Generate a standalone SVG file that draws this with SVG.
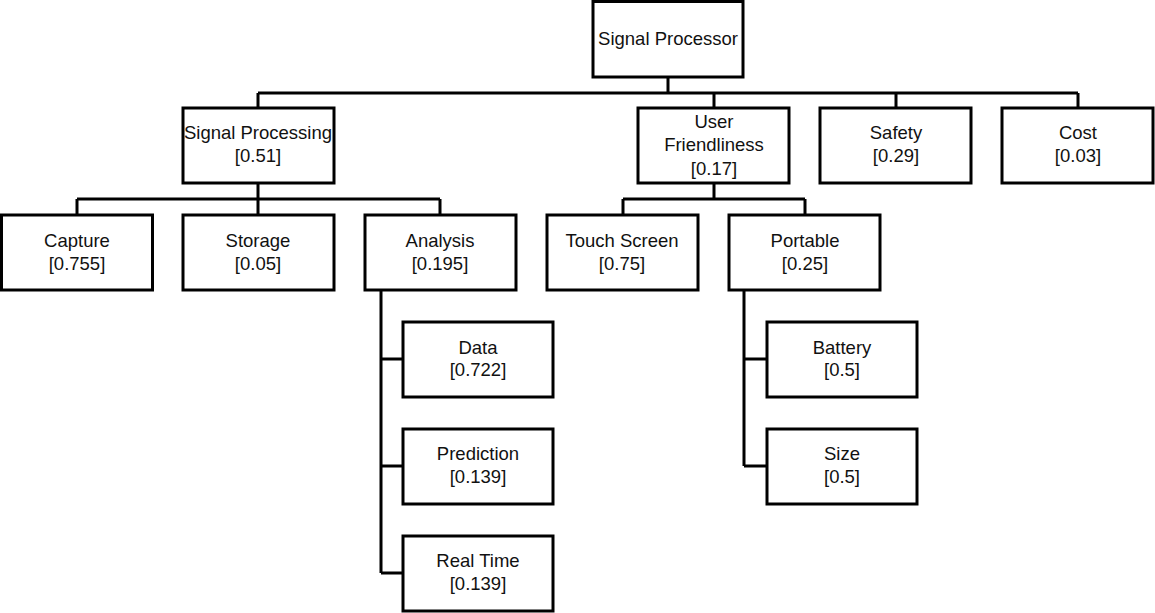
<svg xmlns="http://www.w3.org/2000/svg" width="1155" height="613" viewBox="0 0 1155 613">
<style>
.box{fill:#fff;stroke:#000;stroke-width:3}
.ln{fill:none;stroke:#000;stroke-width:3}
text{font-family:"Liberation Sans",Arial,sans-serif;font-size:18.5px;fill:#111;text-anchor:middle}
</style>
<rect width="1155" height="613" fill="#fff"/>
<g id="connectors">
<path class="ln" d="M668,77 V93 M258,93 H1078 M258,93 V108 M714,93 V108 M896,93 V108 M1078,93 V108"/>
<path class="ln" d="M258,183 V199 M77,199 H440 M77,199 V215 M258,199 V215 M440,199 V215"/>
<path class="ln" d="M714,183 V199 M623,199 H805 M623,199 V215 M805,199 V215"/>
<path class="ln" d="M381,291 V573 M381,359 H403 M381,466 H403 M381,573 H403"/>
<path class="ln" d="M744,291 V466 M744,359 H767 M744,466 H767"/>
</g>
<g id="n_root"><rect class="box" x="593" y="1.5" width="150" height="75.5"/><text x="668" y="45">Signal Processor</text></g>
<g id="n_sp"><rect class="box" x="183" y="108" width="151" height="75"/><text x="258" y="139">Signal Processing</text><text x="258" y="162">[0.51]</text></g>
<g id="n_uf"><rect class="box" x="638" y="108" width="151" height="75"/><text x="714" y="128">User</text><text x="714" y="151">Friendliness</text><text x="714" y="175">[0.17]</text></g>
<g id="n_safety"><rect class="box" x="820" y="108" width="151" height="75"/><text x="896" y="139">Safety</text><text x="896" y="162">[0.29]</text></g>
<g id="n_cost"><rect class="box" x="1002" y="108" width="151" height="75"/><text x="1078" y="139">Cost</text><text x="1078" y="162">[0.03]</text></g>
<g id="n_capture"><rect class="box" x="1.5" y="215" width="151" height="75"/><text x="77" y="247">Capture</text><text x="77" y="270">[0.755]</text></g>
<g id="n_storage"><rect class="box" x="183" y="215" width="151" height="75"/><text x="258" y="247">Storage</text><text x="258" y="270">[0.05]</text></g>
<g id="n_analysis"><rect class="box" x="365" y="215" width="151" height="75"/><text x="440" y="247">Analysis</text><text x="440" y="270">[0.195]</text></g>
<g id="n_touch"><rect class="box" x="547" y="215" width="151" height="75"/><text x="622" y="247">Touch Screen</text><text x="622" y="270">[0.75]</text></g>
<g id="n_portable"><rect class="box" x="729" y="215" width="151" height="75"/><text x="805" y="247">Portable</text><text x="805" y="270">[0.25]</text></g>
<g id="n_data"><rect class="box" x="403" y="322" width="150" height="75"/><text x="478" y="354">Data</text><text x="478" y="376">[0.722]</text></g>
<g id="n_prediction"><rect class="box" x="403" y="429" width="150" height="75"/><text x="478" y="460">Prediction</text><text x="478" y="483">[0.139]</text></g>
<g id="n_realtime"><rect class="box" x="403" y="536" width="150" height="75"/><text x="478" y="567">Real Time</text><text x="478" y="590">[0.139]</text></g>
<g id="n_battery"><rect class="box" x="767" y="322" width="150" height="75"/><text x="842" y="354">Battery</text><text x="842" y="376">[0.5]</text></g>
<g id="n_size"><rect class="box" x="767" y="429" width="150" height="75"/><text x="842" y="460">Size</text><text x="842" y="483">[0.5]</text></g>
</svg>
